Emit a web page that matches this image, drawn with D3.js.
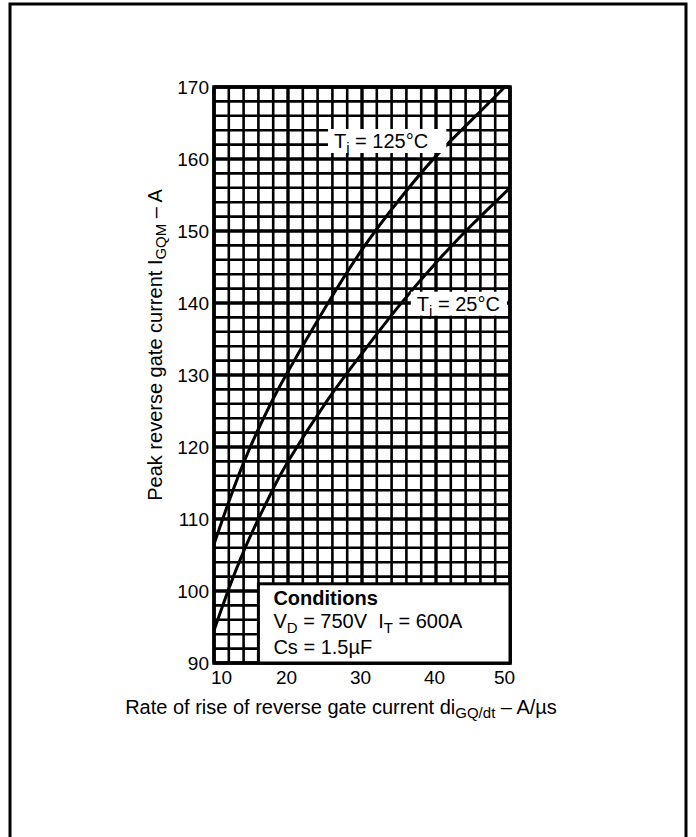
<!DOCTYPE html>
<html><head><meta charset="utf-8">
<script src="https://cdn.jsdelivr.net/npm/d3@7"></script>
<style>
html,body{margin:0;padding:0;background:#fff;}
svg text{font-family:"Liberation Sans",Arial,Helvetica,sans-serif;fill:#000;white-space:pre;}
</style></head>
<body><svg id="c" width="696" height="837"></svg>
<script>
// ---- data ----
const rateX      = [10, 12, 14, 16, 18, 20, 25, 30, 35, 40, 45, 49.3];
const tj125      = [106.5, 112.4, 117.8, 122.5, 126.7, 130.5, 139.3, 147.4, 154.3, 160.4, 165.6, 170];
const rateX25    = [10, 12, 14, 16, 18, 20, 25, 30, 35, 40, 45, 50];
const tj25       = [94.5, 100.3, 105.5, 110, 114.2, 118, 126, 133, 139.6, 145.6, 151, 156];
const xTickVals  = [10, 20, 30, 40, 50];
const yTickVals  = [90, 100, 110, 120, 130, 140, 150, 160, 170];
const condLines  = ["Conditions", "V_D = 750V\u00a0\u00a0I_T = 600A", "Cs = 1.5µF"];

const svg = d3.select("#c");
const x = d3.scaleLinear().domain([10, 50]).range([214, 510]);
const y = d3.scaleLinear().domain([90, 170]).range([663, 87]);

// outer frame (open at bottom)
svg.append("path").attr("d","M10,840 V4 H686 V840").attr("fill","none").attr("stroke","#000").attr("stroke-width",3);

// grid
const g = svg.append("g");
const gx = d3.range(10, 50.1, 2), gy = d3.range(90, 170.1, 2);
g.selectAll("line.v").data(gx).join("line")
  .attr("x1", d=>x(d)).attr("x2", d=>x(d)).attr("y1", y(90)).attr("y2", y(170))
  .attr("stroke","#000").attr("stroke-width", d=> d%10===0 ? 3.4 : 2.6);
g.selectAll("line.h").data(gy).join("line")
  .attr("y1", d=>y(d)).attr("y2", d=>y(d)).attr("x1", x(10)).attr("x2", x(50))
  .attr("stroke","#000").attr("stroke-width", d=> d%10===0 ? 3.4 : 2.6);
svg.append("rect").attr("x",x(10)).attr("y",y(170)).attr("width",x(50)-x(10)).attr("height",y(90)-y(170))
  .attr("fill","none").attr("stroke","#000").attr("stroke-width",3.5);

// curves
const line = d3.line().x(d=>x(d[0])).y(d=>y(d[1])).curve(d3.curveNatural);
svg.append("path").datum(rateX.map((v,i)=>[v,tj125[i]])).attr("d",line)
  .attr("fill","none").attr("stroke","#000").attr("stroke-width",3);
svg.append("path").datum(rateX25.map((v,i)=>[v,tj25[i]])).attr("d",line)
  .attr("fill","none").attr("stroke","#000").attr("stroke-width",3);

// curve labels
function tjLabel(x0, x1, yc, val){
  const grp = svg.append("g");
  grp.append("rect").attr("x",x0).attr("y",yc-12).attr("width",x1-x0).attr("height",24).attr("fill","#fff");
  const t = grp.append("text").attr("x",x0+6).attr("y",yc+7).attr("font-size",20);
  t.append("tspan").text("T");
  t.append("tspan").attr("font-size",15).attr("dy",5).text("j");
  t.append("tspan").attr("dy",-5).text(" = " + val + "°C");
}
tjLabel(x(25.4), x(41.4), y(162.5), "125");
tjLabel(x(36.6), x(49.6), y(139.9), "25");

// conditions box
const bx0 = x(16), by0 = y(101);
svg.append("rect").attr("x",bx0).attr("y",by0).attr("width",x(50)-bx0).attr("height",y(90)-by0)
  .attr("fill","#fff").attr("stroke","#000").attr("stroke-width",3);
function richText(sel, str, fs){
  // underscore marks a one-letter subscript
  const parts = str.split(/(_.)/);
  let shift = 0;
  parts.forEach(p=>{
    if(p.startsWith("_")){ sel.append("tspan").attr("font-size",fs*0.75).attr("dy",5).text(p.slice(1)); shift = -5; }
    else if(p){ sel.append("tspan").attr("dy",shift).text(p); shift = 0; }
  });
}
svg.append("text").attr("x",bx0+15).attr("y",by0+21).attr("font-size",20).attr("font-weight","bold").text(condLines[0]);
richText(svg.append("text").attr("x",bx0+15).attr("y",by0+44).attr("font-size",20), condLines[1], 20);
svg.append("text").attr("x",bx0+15).attr("y",by0+70).attr("font-size",20).text(condLines[2]);

// axes (labels only)
const ax = svg.append("g").attr("transform",`translate(0,${y(90)})`)
  .call(d3.axisBottom(x).tickValues(xTickVals).tickSize(0).tickPadding(8).tickFormat(d3.format("d")));
const ay = svg.append("g").attr("transform",`translate(${x(10)},0)`)
  .call(d3.axisLeft(y).tickValues(yTickVals).tickSize(0).tickPadding(5).tickFormat(d3.format("d")));
[ax, ay].forEach(a=>{ a.select(".domain").remove(); a.selectAll("text").attr("font-size",19).attr("fill","#000")
  .attr("font-family",'"Liberation Sans",Arial,sans-serif'); });
ax.selectAll("text").attr("dx", d=> d===10 ? 7 : (d===50 ? -6 : -2));

// axis titles
const xt = svg.append("text").attr("x",341).attr("y",714).attr("text-anchor","middle").attr("font-size",20);
xt.append("tspan").text("Rate of rise of reverse gate current di");
xt.append("tspan").attr("font-size",15).attr("dy",4).text("GQ/dt");
xt.append("tspan").attr("dy",-4).text(" – A/µs");

const yt = svg.append("text").attr("transform","translate(162,345) rotate(-90)").attr("text-anchor","middle").attr("font-size",20);
yt.append("tspan").text("Peak reverse gate current I");
yt.append("tspan").attr("font-size",15).attr("dy",4).text("GQM");
yt.append("tspan").attr("dy",-4).text(" – A");
</script></body></html>
